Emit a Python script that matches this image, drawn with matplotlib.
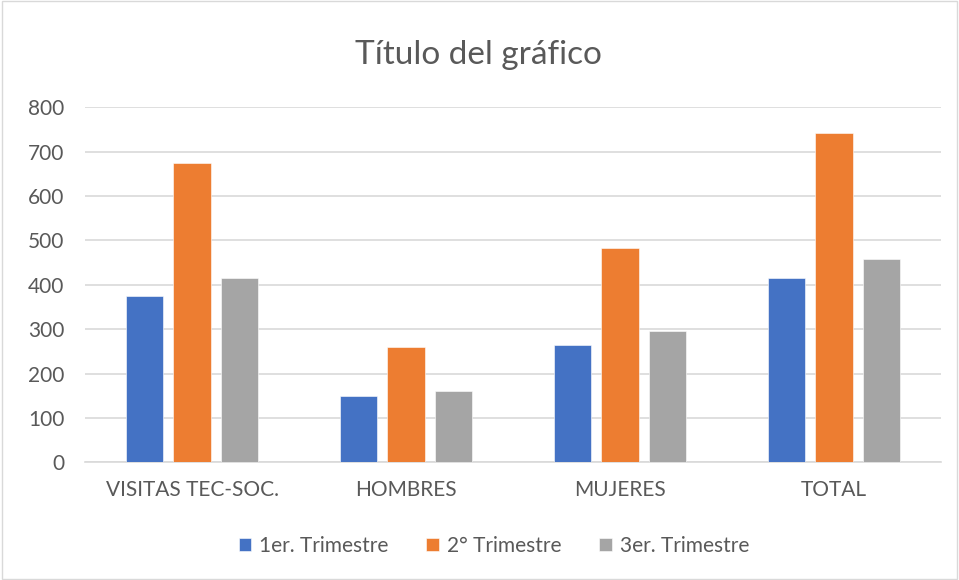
import matplotlib.pyplot as plt
import numpy as np

# Data
categories = ["VISITAS TEC-SOC.", "HOMBRES", "MUJERES", "TOTAL"]
series_names = ["1er. Trimestre", "2° Trimestre", "3er. Trimestre"]
trim1 = [374, 149, 265, 415]
trim2 = [675, 259, 482, 742]
trim3 = [415, 161, 297, 458]
y_ticks = [0, 100, 200, 300, 400, 500, 600, 700, 800]

colors = ["#4472c4", "#ed7d31", "#a5a5a5"]
text_color = "#595959"
grid_color = "#d9d9d9"

plt.rcParams["font.family"] = ["Lato", "DejaVu Sans"]

fig = plt.figure(figsize=(9.59, 5.8), dpi=100)
ax = fig.add_axes([85 / 959, 1 - 462.3 / 580, 856 / 959, 355 / 580])

x = np.arange(len(categories))
width = 0.173
offset = 0.222
for i, vals in enumerate([trim1, trim2, trim3]):
    ax.bar(
        x + (i - 1) * offset,
        vals,
        width=width,
        color=colors[i],
        edgecolor="white",
        linewidth=0.4,
        label=series_names[i],
        zorder=3,
    )

ax.set_xlim(-0.5, len(categories) - 0.5)
ax.set_ylim(0, 800)
ax.set_yticks(y_ticks)
ax.set_yticklabels([str(v) for v in y_ticks], fontsize=15, color=text_color)
ax.set_xticks(x)
ax.set_xticklabels(categories, fontsize=15, color=text_color)
ax.tick_params(axis="both", length=0)
ax.tick_params(axis="y", pad=15)
ax.tick_params(axis="x", pad=13)

ax.grid(axis="y", color=grid_color, linewidth=1.2, zorder=0)
for side in ["top", "right", "left"]:
    ax.spines[side].set_visible(False)
ax.spines["bottom"].set_color(grid_color)
ax.spines["bottom"].set_linewidth(1.2)

fig.text(0.5 - 1 / 959, 1 - 55 / 580, "Título del gráfico", ha="center", va="center",
         fontsize=24, color=text_color)

handles, labels = ax.get_legend_handles_labels()
fig.legend(
    handles,
    labels,
    loc="center",
    bbox_to_anchor=(494 / 959, 1 - 546 / 580),
    ncol=3,
    frameon=False,
    fontsize=15,
    labelcolor=text_color,
    handlelength=0.6,
    handleheight=0.6,
    handletextpad=0.4,
    columnspacing=1.8,
)

# light border around the chart area
fig.patches.append(plt.Rectangle((0.002, 0.002), 0.996, 0.996, transform=fig.transFigure,
                                 fill=False, edgecolor="#d9d9d9", linewidth=1))

fig.savefig("out.png", dpi=100)
